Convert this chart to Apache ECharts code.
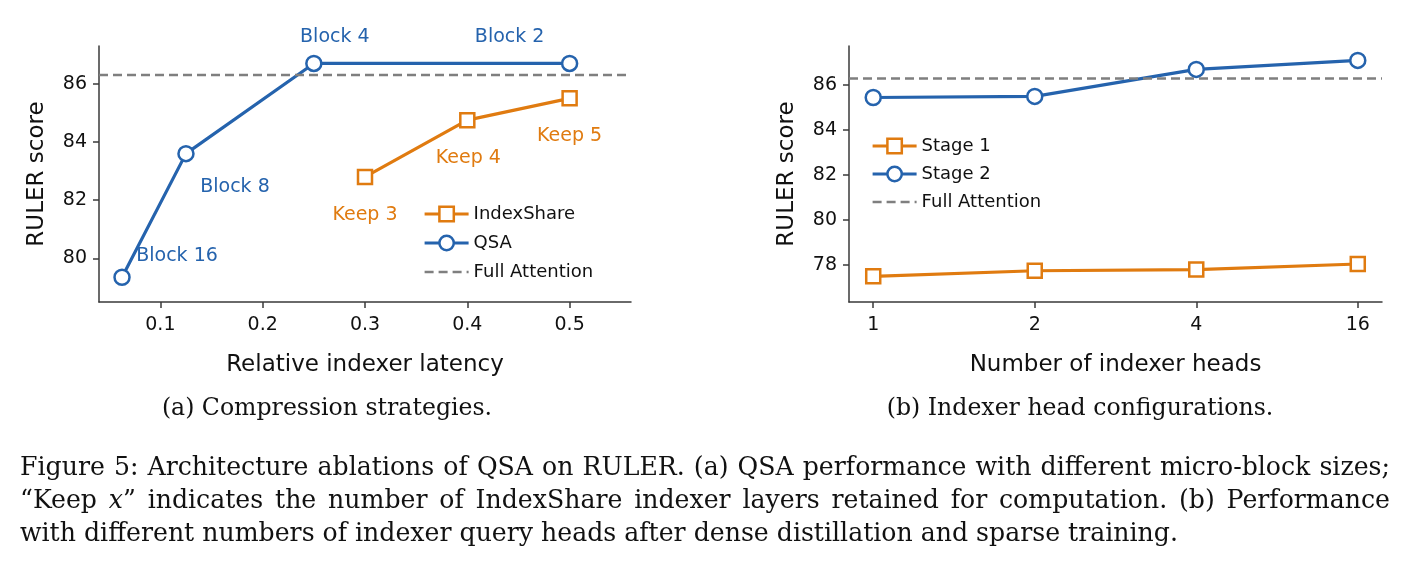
<!DOCTYPE html>
<html>
<head>
<meta charset="utf-8">
<script src="https://cdn.jsdelivr.net/npm/echarts@6/dist/echarts.min.js"></script>
<style>
  html, body { margin: 0; padding: 0; background: #fff; }
  #wrap { position: relative; width: 1404px; height: 566px; overflow: hidden; }
  #chart { position: absolute; left: 0; top: 0; width: 1404px; height: 566px; }
  .sub { position: absolute; top: 393px; font-family: 'DejaVu Serif', serif; font-size: 23.6px; color: #111; white-space: nowrap; transform: translateX(-50%); }
  #caption { position: absolute; left: 20px; top: 450px; width: 1370px; font-family: 'DejaVu Serif', serif; font-size: 25.2px; line-height: 33px; color: #111; }
  #caption div { white-space: nowrap; }
  #caption .j { text-align: justify; text-align-last: justify; }
</style>
</head>
<body>
<div id="wrap">
  <div id="chart"></div>
  <div class="sub" style="left:327px">(a) Compression strategies.</div>
  <div class="sub" style="left:1080px">(b) Indexer head configurations.</div>
  <div id="caption">
    <div class="j">Figure 5: Architecture ablations of QSA on RULER. (a) QSA performance with different micro-block sizes;</div>
    <div class="j">“Keep <i>x</i>” indicates the number of IndexShare indexer layers retained for computation. (b) Performance</div>
    <div>with different numbers of indexer query heads after dense distillation and sparse training.</div>
  </div>
</div>
<script>
// (a) compression strategies
const latencyTicks = [0.1, 0.2, 0.3, 0.4, 0.5]
const scoreTicksA = [80, 82, 84, 86]
const qsaLatency = [0.0625, 0.125, 0.25, 0.5]
const qsaScore = [79.35, 83.6, 86.7, 86.7]
const qsaLabels = ['Block 16', 'Block 8', 'Block 4', 'Block 2']
const indexShareLatency = [0.3, 0.4, 0.5]
const indexShareScore = [82.8, 84.75, 85.5]
const indexShareLabels = ['Keep 3', 'Keep 4', 'Keep 5']
const fullAttention = 86.3

// (b) indexer heads
const headCounts = ['1', '2', '4', '16']
const scoreTicksB = [78, 80, 82, 84, 86]
const stage1Score = [77.5, 77.75, 77.8, 78.05]
const stage2Score = [85.45, 85.5, 86.7, 87.1]

// label placement (px from the marker)
const qsaLabelOffsets = [[55, -21], [49, 33], [21, -26], [-60, -26]]
const keepLabelOffsets = [[0, 38], [1, 38], [0, 38]]

const BLUE = '#2563ad'
const ORANGE = '#e07b10'
const GREY = '#7f7f7f'
const FONT = 'DejaVu Sans'

const xRangeA = [0.04, 0.56]
const xRangeB = [-0.15, 3.15]

function axisBase() {
  return {
    axisLine: { show: true, onZero: false, lineStyle: { color: '#3a3a3a', width: 1.5 } },
    axisTick: { show: true, length: 6, lineStyle: { color: '#3a3a3a', width: 1.5 } },
    axisLabel: { color: '#111', fontFamily: FONT, fontSize: 19 },
    splitLine: { show: false },
    nameTextStyle: { color: '#111', fontFamily: FONT, fontSize: 23 }
  }
}

function withLabels(xs, ys, texts, offsets, color) {
  return xs.map((x, i) => ({
    value: [x, ys[i]],
    label: {
      show: true,
      formatter: texts[i],
      position: 'inside',
      offset: offsets[i],
      color: color,
      fontFamily: FONT,
      fontSize: 19
    }
  }))
}

function lineSeries(name, data, color, symbol, xi) {
  return {
    name: name,
    type: 'line',
    xAxisIndex: xi,
    yAxisIndex: xi,
    data: data,
    symbol: symbol,
    symbolSize: symbol === 'rect' ? 14 : 15,
    showSymbol: true,
    itemStyle: { color: '#fff', borderColor: color, borderWidth: 2.5 },
    lineStyle: { color: color, width: 3.2 },
    emphasis: { disabled: true },
    animation: false,
    z: 3
  }
}

function refLine(range, xi) {
  return {
    name: 'Full Attention',
    type: 'line',
    xAxisIndex: xi,
    yAxisIndex: xi,
    data: [[range[0], fullAttention], [range[1], fullAttention]],
    symbol: 'none',
    itemStyle: { color: GREY },
    lineStyle: { color: GREY, width: 2.5, type: [9, 5] },
    emphasis: { disabled: true },
    animation: false,
    z: 4
  }
}

function legendItems(names, colors) {
  return names.map((n, i) => {
    const item = { name: n, lineStyle: { width: 3.2, color: colors[i] } }
    if (colors[i] === GREY) {
      item.lineStyle.type = [9, 5]
      item.lineStyle.width = 2.5
      item.itemStyle = { opacity: 0 }
    } else {
      item.itemStyle = { color: '#fff', borderColor: colors[i], borderWidth: 2.5 }
    }
    return item
  })
}

const chart = echarts.init(document.getElementById('chart'), null, { renderer: 'canvas' })

const xA = axisBase()
Object.assign(xA, {
  type: 'value', gridIndex: 0, min: xRangeA[0], max: xRangeA[1],
  name: 'Relative indexer latency', nameLocation: 'middle', nameGap: 52
})
xA.axisTick.customValues = latencyTicks
xA.axisLabel = Object.assign({}, xA.axisLabel, { customValues: latencyTicks, margin: 14, formatter: v => String(+v.toFixed(1)) })

const yA = axisBase()
Object.assign(yA, {
  type: 'value', gridIndex: 0, min: 78.5, max: 87.3,
  name: 'RULER score', nameLocation: 'middle', nameGap: 50
})
yA.axisTick.customValues = scoreTicksA
yA.axisLabel = Object.assign({}, yA.axisLabel, { customValues: scoreTicksA, margin: 12 })

const xB = axisBase()
Object.assign(xB, {
  type: 'value', gridIndex: 1, min: xRangeB[0], max: xRangeB[1],
  name: 'Number of indexer heads', nameLocation: 'middle', nameGap: 52
})
const headPos = headCounts.map((h, i) => i)
xB.axisTick.customValues = headPos
xB.axisLabel = Object.assign({}, xB.axisLabel, { customValues: headPos, margin: 14, formatter: v => headCounts[Math.round(v)] })

const yB = axisBase()
Object.assign(yB, {
  type: 'value', gridIndex: 1, min: 76.36, max: 87.74,
  name: 'RULER score', nameLocation: 'middle', nameGap: 50
})
yB.axisTick.customValues = scoreTicksB
yB.axisLabel = Object.assign({}, yB.axisLabel, { customValues: scoreTicksB, margin: 12 })

const legendText = { color: '#111', fontFamily: FONT, fontSize: 18, lineHeight: 20 }

chart.setOption({
  backgroundColor: '#fff',
  animation: false,
  grid: [
    { left: 99, top: 46, width: 532, height: 256 },
    { left: 849, top: 46, width: 533, height: 256 }
  ],
  xAxis: [xA, xB],
  yAxis: [yA, yB],
  legend: [
    {
      data: legendItems(['IndexShare', 'QSA', 'Full Attention'], [ORANGE, BLUE, GREY]),
      orient: 'vertical', left: 418, top: 199,
      itemWidth: 44, itemHeight: 18, itemGap: 9,
      textStyle: legendText, selectedMode: false
    },
    {
      data: legendItems(['Stage 1', 'Stage 2', 'Full Attention'], [ORANGE, BLUE, GREY]),
      orient: 'vertical', left: 866, top: 131,
      itemWidth: 44, itemHeight: 18, itemGap: 8,
      textStyle: legendText, selectedMode: false
    }
  ],
  series: [
    lineSeries('QSA', withLabels(qsaLatency, qsaScore, qsaLabels, qsaLabelOffsets, BLUE), BLUE, 'circle', 0),
    lineSeries('IndexShare', withLabels(indexShareLatency, indexShareScore, indexShareLabels, keepLabelOffsets, ORANGE), ORANGE, 'rect', 0),
    refLine(xRangeA, 0),
    lineSeries('Stage 1', stage1Score.map((v, i) => [i, v]), ORANGE, 'rect', 1),
    lineSeries('Stage 2', stage2Score.map((v, i) => [i, v]), BLUE, 'circle', 1),
    refLine(xRangeB, 1)
  ]
})
</script>
</body>
</html>
